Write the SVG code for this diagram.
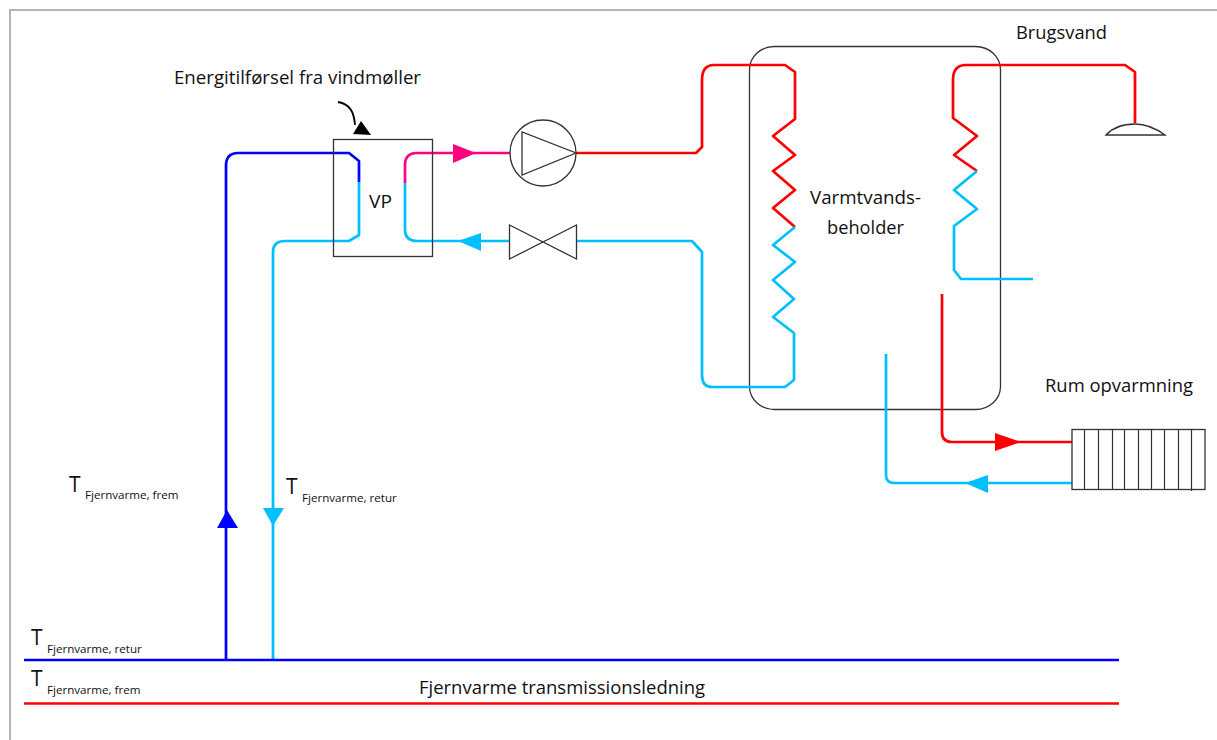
<svg xmlns="http://www.w3.org/2000/svg" width="1217" height="740" viewBox="0 0 1217 740">
<style>
text{font-family:"Open Sans","Noto Sans","Liberation Sans",sans-serif;fill:#111}
.l{font-size:18.500px}
.t{font-size:21px}
.s{font-size:11.600px}
.pipe{fill:none;stroke-width:2.700;stroke-linejoin:round}
.sym{fill:#fff;stroke:#333;stroke-width:1.300}
.b{stroke:#0000ff}.c{stroke:#00bfff}.r{stroke:#ff0000}.p{stroke:#ff0080}
</style>
<rect width="1217" height="740" fill="#fff"/>
<path id="frame" d="M10,740V10H1217" fill="none" stroke="#b4b4b4" stroke-width="2"/>
<g id="tank"><rect x="749.500" y="46.500" width="251" height="363" rx="25" ry="23" fill="none" stroke="#333" stroke-width="1.300"/></g>
<g id="connectors">
<path class="pipe b" d="M226,660V166Q226,153 238,153H349L359,161V182"/>
<path class="pipe c" d="M359,182V235L349,241H285Q273,241 273,252V660"/>
<path class="pipe p" d="M405,183V165Q405,153 417,153H510"/>
<path class="pipe c" d="M405,183V230Q405,241 417,241H510"/>
<path class="pipe r" d="M576,153H696L702,147V80Q702,65 714,65H785L795,72V119L773,136L795,155L773,171L795,190L773,208L795,227"/>
<path class="pipe c" d="M795,227L773,245L795,262L773,280L794,299L773,317L794,333V380L785,387H712Q702,387 702,375V252L692,241H576"/>
<path class="pipe r" d="M1135,123V72L1125,65H966Q953,65 953,80V118L977,136L954,155L977,171"/>
<path class="pipe c" d="M977,171L954,190L977,209L954,226V270L961,279H1033"/>
<path class="pipe r" d="M942,294V432Q942,442 952,442H1072"/>
<path class="pipe c" d="M886,354V475Q886,483 894,483H1072"/>
<path d="M24,660H1119" class="pipe b" style="stroke-width:2.500"/>
<path d="M24,703.500H1119" class="pipe r" style="stroke-width:2.500"/>
<polygon points="453,144 453,163 476,153" fill="#ff0080"/>
<polygon points="481,233 481,251 458,241" fill="#00bfff"/>
<polygon points="995,433 995,451 1021,442" fill="#ff0000"/>
<polygon points="988,475 988,493 965,483" fill="#00bfff"/>
<polygon points="217,528 238,528 227,510" fill="#0000ff"/>
<polygon points="263,508 284,508 273,526" fill="#00bfff"/>
<path d="M338,102C350,104 354,112 355,125" fill="none" stroke="#000" stroke-width="1.800"/>
<polygon points="361,121 353,134 371,135" fill="#000"/>
</g>
<g id="vp"><rect x="333.500" y="139.500" width="99" height="117" fill="none" stroke="#333" stroke-width="1.300"/>
<text class="l" x="369" y="208" textLength="23" lengthAdjust="spacingAndGlyphs">VP</text></g>
<g id="pump"><circle class="sym" cx="543" cy="153" r="33"/><path class="sym" d="M522,132V175L576,153Z"/></g>
<g id="valve"><path class="sym" d="M509.500,225V259L576.500,225V259Z"/></g>
<g id="shower"><path class="sym" d="M1106,135H1165Q1150,124 1135,124Q1116,124 1106,135Z"/></g>
<g id="radiator"><rect class="sym" x="1072" y="429.500" width="133" height="60"/>
<path d="M1084.500,430V489M1098.500,430V489M1112.500,430V489M1124.500,430V489M1138.500,430V489M1151.500,430V489M1164.500,430V489M1178.500,430V489M1191.500,430V491" stroke="#333" stroke-width="1.200" fill="none"/></g>
<g id="labels">
<text class="l" x="174" y="84" textLength="247" lengthAdjust="spacingAndGlyphs">Energitilførsel fra vindmøller</text>
<text class="l" x="1016" y="39" textLength="91" lengthAdjust="spacingAndGlyphs">Brugsvand</text>
<text class="l" x="810" y="204" textLength="111" lengthAdjust="spacingAndGlyphs">Varmtvands-</text>
<text class="l" x="827" y="234" textLength="77" lengthAdjust="spacingAndGlyphs">beholder</text>
<text class="l" x="1045" y="392" textLength="148" lengthAdjust="spacingAndGlyphs">Rum opvarmning</text>
<text class="l" x="419" y="694" textLength="286" lengthAdjust="spacingAndGlyphs">Fjernvarme transmissionsledning</text>
<text><tspan class="t" x="69" y="492">T</tspan><tspan class="s" x="85" y="499">Fjernvarme, frem</tspan></text>
<text><tspan class="t" x="286" y="494">T</tspan><tspan class="s" x="302" y="502">Fjernvarme, retur</tspan></text>
<text><tspan class="t" x="31" y="645">T</tspan><tspan class="s" x="47" y="653">Fjernvarme, retur</tspan></text>
<text><tspan class="t" x="31" y="686">T</tspan><tspan class="s" x="47" y="694">Fjernvarme, frem</tspan></text>
</g>
</svg>
